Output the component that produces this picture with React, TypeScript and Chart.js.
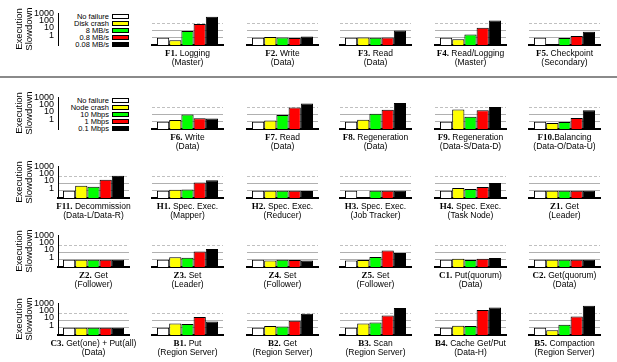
import React, { useEffect, useRef } from 'react';
import { Chart, registerables } from 'chart.js';

Chart.register(...registerables);
Chart.defaults.font.family = 'Liberation Sans';

// ---- data ----
const LEGEND_DISK = ['No failure', 'Disk crash', '8 MB/s', '0.8 MB/s', '0.08 MB/s'];
const LEGEND_NODE = ['No failure', 'Node crash', '10 Mbps', '1 Mbps', '0.1 Mbps'];
const COLORS = ['#ffffff', '#ffff00', '#00ff00', '#ff0000', '#000000'];

const PANEL_IDS = [
  'F1.', 'F2.', 'F3.', 'F4.', 'F5.',
  'F6.', 'F7.', 'F8.', 'F9.', 'F10.',
  'F11.', 'H1.', 'H2.', 'H3.', 'H4.', 'Z1.',
  'Z2.', 'Z3.', 'Z4.', 'Z5.', 'C1.', 'C2.',
  'C3.', 'B1.', 'B2.', 'B3.', 'B4.', 'B5.',
];
const PANEL_NAMES = [
  ' Logging', ' Write', ' Read', ' Read/Logging', ' Checkpoint',
  ' Write', ' Read', ' Regeneration', ' Regeneration', 'Balancing',
  ' Decommission', ' Spec. Exec.', ' Spec. Exec.', ' Spec. Exec.', ' Spec. Exec.', ' Get',
  ' Get', ' Set', ' Set', ' Set', ' Put(quorum)', ' Get(quorum)',
  ' Get(one) + Put(all)', ' Put', ' Get', ' Scan', ' Cache Get/Put', ' Compaction',
];
const PANEL_SUBS = [
  '(Master)', '(Data)', '(Data)', '(Master)', '(Secondary)',
  '(Data)', '(Data)', '(Data)', '(Data-S/Data-D)', '(Data-O/Data-U)',
  '(Data-L/Data-R)', '(Mapper)', '(Reducer)', '(Job Tracker)', '(Task Node)', '(Leader)',
  '(Follower)', '(Leader)', '(Follower)', '(Follower)', '(Data)', '(Data)',
  '(Data)', '(Region Server)', '(Region Server)', '(Region Server)', '(Data-H)', '(Region Server)',
];

const NO_FAILURE = [
  1, 1, 1, 1, 1,
  1, 1, 1, 1, 1,
  1, 1, 1, 1, 1, 1,
  1, 1, 1, 0.8, 1, 1,
  1, 1, 1, 1, 1, 1,
];
const CRASH = [
  0.43, 1.2, 1.1, 0.6, null,
  1.7, 1.5, 1.9, 46, 0.65,
  4.8, 1.4, 1, null, 2.3, 1,
  0.95, 2.1, 0.8, 0.9, 1.4, 0.95,
  1, 3.9, 1.7, 3.9, 1.9, 0.43,
];
const FAST = [
  8, 1.1, 1, 2.8, 0.9,
  10, 8, 12, 4.6, 0.9,
  3.4, 1.5, 1, 1, 1.7, 1,
  1, 1.9, 1, 2.4, 0.9, 1,
  0.95, 3.2, 1.5, 5.3, 1.7, 2.6,
];
const MEDIUM = [
  73, 0.9, 1.1, 23, 1.7,
  3, 90, 42, 37, 3.3,
  32, 13.7, 1, 1, 3.2, 1,
  1, 13, 0.9, 18, 1.4, 1,
  1, 28, 9, 48, 256, 35,
];
const SLOW = [
  730, 1.5, 10, 230, 6.6,
  2.8, 300, 370, 100, 37,
  110, 26, 0.9, 1, 11, 1,
  1, 28, 0.8, 8.5, 1.7, 1,
  0.95, 7.3, 80, 480, 590, 1000,
];
const SERIES = [NO_FAILURE, CRASH, FAST, MEDIUM, SLOW];

const TICK_VALUES = [1, 10, 100, 1000];
const TICK_LABELS = ['1', '10', '100', '1000'];
const Y_MIN = 0.1;
const Y_MAX = 2400;

// ---- layout ----
const COL_LEFT = [58, 152, 247, 340, 435, 529];
const ROW_BASE = [45, 129, 198, 267, 335];
const PLOT_W = 71;
const PLOT_H = 32;
const PAD_V = 10;
const AXIS_W = 58;

function panelPos(p: number) {
  if (p < 10) return { row: Math.floor(p / 5), col: (p % 5) + 1 };
  const q = p - 10;
  return { row: 2 + Math.floor(q / 6), col: q % 6 };
}

function yScale(showAxis: boolean, showGrid: boolean, yW: number) {
  return {
    type: 'logarithmic',
    min: Y_MIN,
    max: Y_MAX,
    afterBuildTicks: (s: any) => {
      s.ticks = (showAxis ? TICK_VALUES : TICK_VALUES.slice(0, 3)).map((v) => ({ value: v }));
    },
    afterFit: (s: any) => {
      s.width = yW;
    },
    ticks: {
      display: showAxis,
      autoSkip: false,
      padding: 4,
      labelOffset: -2.5,
      color: '#000',
      font: { size: 9, family: 'Liberation Sans' },
      callback: (v: number) => TICK_LABELS[TICK_VALUES.indexOf(v)] ?? '',
    },
    grid: {
      display: showGrid,
      drawTicks: false,
      lineWidth: 1,
      color: (c: any) =>
        c.tick && c.tick.value >= 1000 ? 'rgba(0,0,0,0)' : c.tick && c.tick.value === 100 ? '#c0c0c0' : '#b0b0b0',
    },
    border: {
      display: showAxis,
      color: '#000',
      width: 1,
      dash: (c: any) => (c.tick && c.tick.value === 100 ? [3, 2] : []),
    },
    title: {
      display: showAxis,
      text: ['Execution', 'Slowdown'],
      color: '#000',
      font: { size: 9.5, family: 'Liberation Sans', lineHeight: 1.05 },
      padding: { top: 14, bottom: 0 },
    },
  };
}

function BarPanel({ p }: { p: number }) {
  const ref = useRef<HTMLCanvasElement>(null);
  const { row, col } = panelPos(p);
  const withAxis = col === 0;
  const padL = withAxis ? 0 : 2;
  const yW = withAxis ? AXIS_W : 0;
  const width = padL + yW + PLOT_W + 4;
  const height = PLOT_H + 2 * PAD_V;
  const left = COL_LEFT[col] - yW - padL;
  const top = ROW_BASE[row] - PLOT_H - PAD_V;
  const labels = row < 1 ? LEGEND_DISK : LEGEND_NODE;

  useEffect(() => {
    const chart = new Chart(ref.current as HTMLCanvasElement, {
      type: 'bar',
      data: {
        labels: [PANEL_IDS[p]],
        datasets: SERIES.map((s, i) => ({
          label: labels[i],
          data: [s[p]],
          backgroundColor: COLORS[i],
          borderColor: '#000',
          borderWidth: 1,
          xAxisID: 'x',
          yAxisID: 'y',
        })),
      },
      options: {
        responsive: false,
        animation: false,
        layout: { padding: { top: PAD_V, bottom: PAD_V, left: padL, right: 4 } },
        plugins: { legend: { display: false }, tooltip: { enabled: false } },
        datasets: { bar: { categoryPercentage: 0.86, barPercentage: 1 } },
        scales: {
          x: {
            display: true,
            grid: { display: false, drawTicks: false },
            ticks: { display: false },
            border: { display: true, color: '#000', width: 2 },
          },
          y: yScale(withAxis, true, yW) as any,
        },
      } as any,
    });
    return () => chart.destroy();
  }, []);

  return (
    <canvas
      ref={ref}
      width={width}
      height={height}
      style={{ position: 'absolute', left, top, width, height }}
    />
  );
}

function AxisOnly({ row }: { row: number }) {
  const ref = useRef<HTMLCanvasElement>(null);
  const width = AXIS_W + 10;
  const height = PLOT_H + 2 * PAD_V;
  const top = ROW_BASE[row] - PLOT_H - PAD_V;
  useEffect(() => {
    const chart = new Chart(ref.current as HTMLCanvasElement, {
      type: 'bar',
      data: { labels: [], datasets: [] },
      options: {
        responsive: false,
        animation: false,
        layout: { padding: { top: PAD_V, bottom: PAD_V, left: 0, right: 0 } },
        plugins: { legend: { display: false }, tooltip: { enabled: false } },
        scales: {
          x: { display: false },
          y: yScale(true, false, AXIS_W) as any,
        },
      } as any,
    });
    return () => chart.destroy();
  }, []);
  return (
    <canvas
      ref={ref}
      width={width}
      height={height}
      style={{ position: 'absolute', left: 0, top, width, height }}
    />
  );
}

function Legend({ row, labels }: { row: number; labels: string[] }) {
  const base = ROW_BASE[row];
  return (
    <>
      {labels.map((lab, i) => {
        const cy = base - 29 + 7.15 * i;
        return (
          <React.Fragment key={i}>
            <div
              style={{
                position: 'absolute',
                right: 617 - 109,
                top: cy - 4.5,
                fontFamily: 'Liberation Sans',
                fontSize: 7.5,
                lineHeight: '9px',
                whiteSpace: 'nowrap',
                color: '#000',
              }}
            >
              {lab}
            </div>
            <div
              style={{
                position: 'absolute',
                left: 112,
                top: cy - 2.5,
                width: 17,
                height: 5,
                boxSizing: 'border-box',
                border: '1px solid #000',
                background: COLORS[i],
              }}
            />
          </React.Fragment>
        );
      })}
    </>
  );
}

function Caption({ p }: { p: number }) {
  const { row, col } = panelPos(p);
  const cx = COL_LEFT[col] + PLOT_W / 2;
  const base = ROW_BASE[row];
  return (
    <div
      style={{
        position: 'absolute',
        left: cx - 70,
        width: 140,
        top: base + 8.7 - 4.65,
        fontFamily: 'Liberation Sans',
        fontSize: 8.5,
        lineHeight: '9.3px',
        textAlign: 'center',
        whiteSpace: 'pre',
        color: '#000',
      }}
    >
      <span style={{ fontFamily: 'Liberation Serif', fontWeight: 'bold', fontSize: 9 }}>{PANEL_IDS[p]}</span>
      {PANEL_NAMES[p]}
      <br />
      {PANEL_SUBS[p]}
    </div>
  );
}

export default function App() {
  return (
    <div
      style={{
        position: 'absolute',
        left: 0,
        top: 0,
        width: 617,
        height: 362,
        background: '#fff',
        overflow: 'hidden',
      }}
    >
      <AxisOnly row={0} />
      <AxisOnly row={1} />
      <Legend row={0} labels={LEGEND_DISK} />
      <Legend row={1} labels={LEGEND_NODE} />
      <div style={{ position: 'absolute', left: 0, top: 76, width: 617, height: 2, background: '#8a8a8a' }} />
      {PANEL_IDS.map((_, p) => (
        <BarPanel key={p} p={p} />
      ))}
      {PANEL_IDS.map((_, p) => (
        <Caption key={'c' + p} p={p} />
      ))}
    </div>
  );
}
